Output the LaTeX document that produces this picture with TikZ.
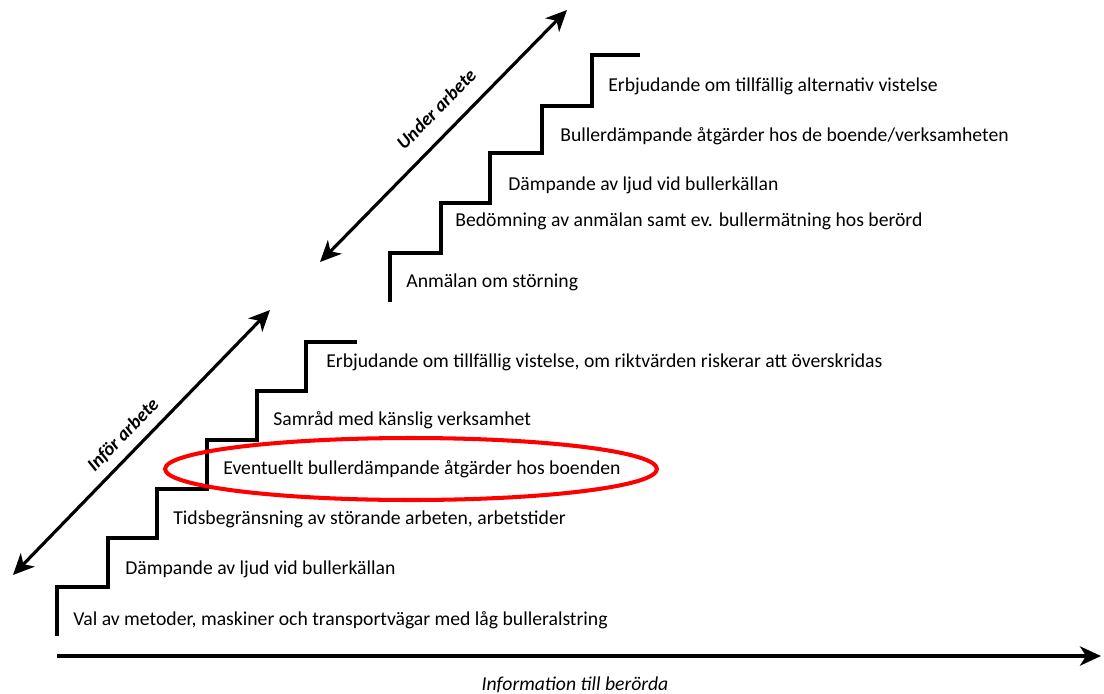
\documentclass[tikz,border=0pt]{standalone}
\usepackage{fontspec}
\setmainfont{Carlito}
\usetikzlibrary{arrows.meta,shapes.geometric}
\begin{document}
\begin{tikzpicture}[x=0.02cm,y=-0.02cm,
  stairline/.style={line width=2pt, line join=miter},
  arrowline/.style={line width=1.8pt, {Stealth[length=12pt,width=11pt,inset=3.5pt]}-{Stealth[length=12pt,width=11pt,inset=3.5pt]}},
  axisline/.style={line width=1.8pt, -{Stealth[length=12pt,width=11pt,inset=3.5pt]}},
  steptext/.style={anchor=west, inner sep=0pt, font=\fontsize{11.2}{13}\selectfont},
  phaselabel/.style={font=\fontsize{10.8}{12}\selectfont\bfseries\itshape, sloped, inner sep=0pt},
  ring/.style={draw=red, line width=2.3pt}
]
\useasboundingbox (0,0) rectangle (1104,693);
% lower staircase
\draw[stairline] (57,636) -- (57,587) -- (108,587) -- (108,538) -- (157,538) -- (157,489) -- (207,489) -- (207,440) -- (257,440) -- (257,391) -- (306,391) -- (306,342) -- (357,342);
% upper staircase
\draw[stairline] (390,302) -- (390,253) -- (441,253) -- (441,203) -- (490,203) -- (490,153) -- (542,153) -- (542,106) -- (592,106) -- (592,55) -- (640,55);
% texts lower
\node[steptext] (l1) at (73,620) {Val av metoder, maskiner och transportvägar med låg bulleralstring};
\node[steptext] (l2) at (125,569) {Dämpande av ljud vid bullerkällan};
\node[steptext] (l3) at (173,519) {Tidsbegränsning av störande arbeten, arbetstider};
\node[steptext] (l4) at (223,469) {Eventuellt bullerdämpande åtgärder hos boenden};
\node[steptext] (l5) at (273,420) {Samråd med känslig verksamhet};
\node[steptext] (l6) at (326,362) {Erbjudande om tillfällig vistelse, om riktvärden riskerar att överskridas};
% texts upper
\node[steptext] (u1) at (406,282) {Anmälan om störning};
\node[steptext] (u2) at (455,221) {Bedömning av anmälan samt ev. bullermätning hos berörd};
\node[steptext] (u3) at (508,185) {Dämpande av ljud vid bullerkällan};
\node[steptext] (u4) at (560,136) {Bullerdämpande åtgärder hos de boende/verksamheten};
\node[steptext] (u5) at (608,86) {Erbjudande om tillfällig alternativ vistelse};
% red ellipse
\node[ring, ellipse, minimum width=9.84cm, minimum height=1.24cm, inner sep=0pt] (hl) at (411,469) {};
% arrows
\coordinate (a1s) at (13,575);
\coordinate (a1e) at (270,310);
\coordinate (a2s) at (320,262);
\coordinate (a2e) at (567,10);
\draw[arrowline] (a1s) -- node[phaselabel, pos=0.48, above=5pt] (lab1) {Inför arbete} (a1e);
\draw[arrowline] (a2s) -- node[phaselabel, pos=0.54, above=9pt] (lab2) {Under arbete} (a2e);
\coordinate (ax0) at (57,656);
\coordinate (ax1) at (1101,656);
\draw[axisline] (ax0) -- (ax1);
\node[font=\fontsize{11.2}{13}\selectfont\itshape, inner sep=0pt] (info) at (575,685) {Information till berörda};
\end{tikzpicture}
\end{document}
